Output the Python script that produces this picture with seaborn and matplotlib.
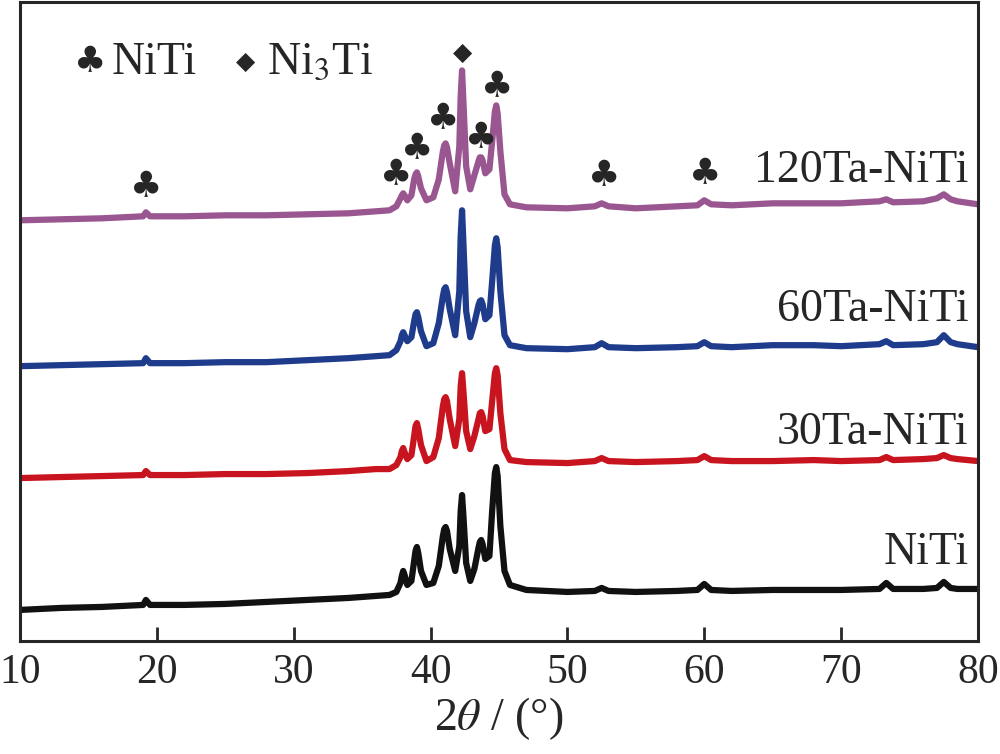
import numpy as np
import pandas as pd
import seaborn as sns
import matplotlib
matplotlib.use('Agg')
import matplotlib.pyplot as plt

# 2theta positions (deg)
two_theta = [10, 13, 16, 19.0, 19.2, 19.5, 22, 25, 28, 31, 34, 36,
             37.0, 37.5, 37.8, 37.9, 38.0, 38.1, 38.3, 38.6, 38.8, 38.9, 39.0, 39.1,
             39.3, 39.7, 40.2, 40.6, 40.9, 41.0, 41.1, 41.2, 41.4, 41.8, 42.1, 42.2,
             42.3, 42.4, 42.6, 42.9, 43.2, 43.5, 43.6, 43.7, 43.8, 44.0, 44.3, 44.5,
             44.7, 44.8, 44.9, 45.1, 45.4, 45.8,
             47, 50, 52.0, 52.5, 53.0, 55, 58, 59.5, 60, 60.5, 62, 65, 68, 70, 72.8,
             73.3, 73.8, 76, 77.0, 77.5, 78.0, 78.5, 80]

# intensities (a.u., stacked)
niti = [31, 33, 34, 36, 41, 36, 36, 37, 39, 41, 43, 45,
        46, 49, 58, 65, 70, 66, 56, 60, 80, 90, 94, 88, 70, 56, 58, 75, 105, 112, 114,
        110, 92, 70, 95, 130, 146, 125, 78, 60, 72, 93, 99, 101, 97, 82, 85, 130, 168,
        174, 165, 115, 70, 56,
        51, 49, 50, 53, 50, 49, 50, 51, 57, 51, 50, 51, 51, 51, 52, 58, 52, 52, 53, 59,
        53, 52, 52]
ta30 = [163, 164, 165, 166, 170, 166, 166, 167, 167, 168, 170, 172,
        172, 176, 184, 190, 193, 189, 182, 186, 205, 215, 218, 212, 196, 180, 184, 203,
        235, 242, 244, 240, 222, 195, 222, 255, 268, 250, 210, 192, 205, 222, 228, 229,
        225, 210, 212, 240, 268, 273, 266, 228, 192, 181,
        179, 178, 180, 183, 180, 179, 180, 181, 185, 181, 180, 180, 181, 180, 181, 184,
        181, 182, 183, 186, 183, 182, 180]
ta60 = [275, 276, 277, 278, 283, 278, 278, 279, 279, 281, 283, 285,
        286, 291, 300, 306, 309, 306, 300, 304, 320, 327, 329, 324, 310, 295, 298, 318,
        345, 352, 354, 349, 332, 306, 350, 405, 431, 398, 330, 304, 318, 336, 340, 341,
        337, 322, 326, 360, 396, 403, 394, 350, 306, 296,
        293, 292, 294, 298, 294, 293, 294, 295, 299, 295, 294, 296, 296, 295, 297, 300,
        296, 297, 299, 306, 299, 297, 294]
ta120 = [421, 422, 423, 425, 429, 425, 425, 426, 426, 427, 428, 430,
         431, 435, 443, 446, 448, 446, 441, 446, 462, 467, 469, 465, 453, 441, 444, 462,
         490, 496, 498, 494, 478, 450, 495, 545, 571, 540, 475, 452, 466, 480, 484, 484,
         481, 468, 472, 500, 530, 536, 528, 490, 447, 437,
         434, 433, 435, 438, 435, 433, 435, 436, 441, 437, 436, 438, 438, 438, 440, 442,
         439, 440, 443, 447, 442, 440, 437]

names = ['NiTi', '30Ta-NiTi', '60Ta-NiTi', '120Ta-NiTi']
colors = ['#111111', '#c8141e', '#1f3c8c', '#9a5690']
label_y = [88, 208, 331, 471]

# phase marks: NiTi clubs, Ni3Ti diamond
club_x = [19.2, 37.5, 39.0, 40.9, 43.7, 44.9, 52.7, 60.1]
club_y = [454, 466, 492, 522, 503, 554, 465, 467]
diamond_x = [42.3]
diamond_y = [589]

sns.set_style('ticks')
plt.rcParams['font.family'] = ['Liberation Serif', 'DejaVu Sans']
plt.rcParams['mathtext.fontset'] = 'stix'

fig, ax = plt.subplots(figsize=(10, 7.54), dpi=100)
fig.subplots_adjust(left=0.02, right=0.978, top=0.998, bottom=0.150)

for vals, col in zip([niti, ta30, ta60, ta120], colors):
    sns.lineplot(x=two_theta, y=vals, color=col, linewidth=4.5, ax=ax)

for name, yy in zip(names, label_y):
    ax.text(79.3, yy, name, ha='right', va='center', fontsize=33)

for xx, yy in zip(club_x, club_y):
    ax.text(xx, yy, '\u2663', ha='center', va='center', fontsize=26,
            family=['DejaVu Sans'])
for xx, yy in zip(diamond_x, diamond_y):
    ax.text(xx, yy, '\u25c6', ha='center', va='center', fontsize=18,
            family=['DejaVu Sans'])

# phase legend
ax.text(0.073, 0.905, '\u2663', transform=ax.transAxes, ha='center', va='center',
        fontsize=26, family=['DejaVu Sans'])
ax.text(0.096, 0.905, 'NiTi', transform=ax.transAxes, ha='left', va='center', fontsize=33)
ax.text(0.235, 0.905, '\u25c6', transform=ax.transAxes, ha='center', va='center',
        fontsize=18, family=['DejaVu Sans'])
ax.text(0.258, 0.905, 'Ni$_3$Ti', transform=ax.transAxes, ha='left', va='center', fontsize=33)

ax.set_xlim(10, 80)
ax.set_ylim(0, 640)
ax.set_xticks(range(10, 81, 10))
ax.set_yticks([])
ax.tick_params(axis='x', direction='in', length=10, width=2, labelsize=30, pad=9)
ax.set_xlabel(r'2$\mathit{\theta}$ / (°)', fontsize=33, labelpad=2)
for sp in ax.spines.values():
    sp.set_linewidth(2.2)
    sp.set_visible(True)

fig.savefig('out.png', dpi=100)
